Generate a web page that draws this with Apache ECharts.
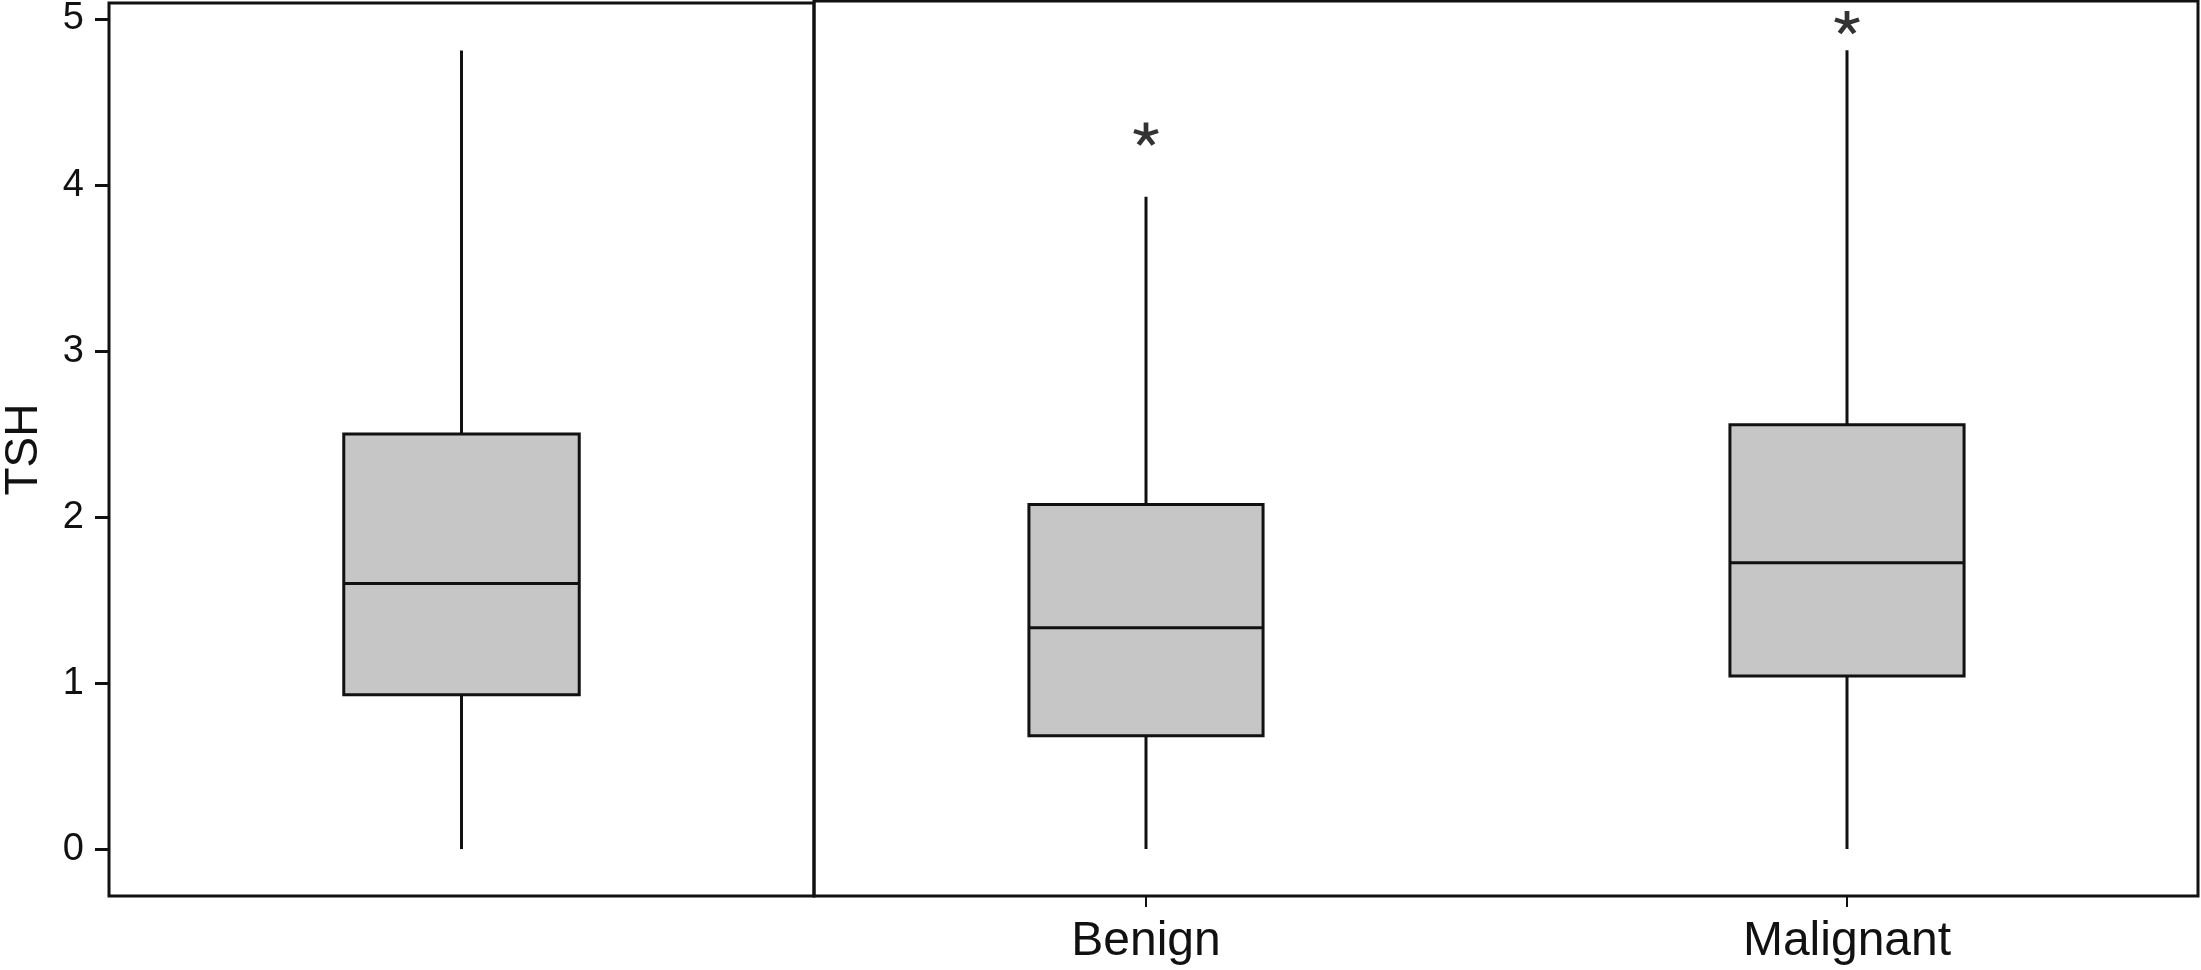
<!DOCTYPE html>
<html>
<head>
<meta charset="utf-8">
<script src="https://cdn.jsdelivr.net/npm/echarts@6/dist/echarts.min.js"></script>
<style>
    html, body { margin: 0; padding: 0; background: #fff; }
    #chart { width: 2201px; height: 970px; }
</style>
</head>
<body>
<div id="chart"></div>
<script>
    // left panel: all cases, right panel: by diagnosis
    const allLabel = ['All'];
    const groupLabels = ['Benign', 'Malignant'];

    const allLow = [0];
    const allQ1 = [0.93];
    const allMedian = [1.60];
    const allQ3 = [2.50];
    const allHigh = [4.81];

    const groupLow = [0, 0];
    const groupQ1 = [0.68, 1.04];
    const groupMedian = [1.33, 1.72];
    const groupQ3 = [2.07, 2.55];
    const groupHigh = [3.92, 4.80];

    const outlierGroup = ['Benign', 'Malignant'];
    const outlierValue = [4.30, 4.97];

    const yTicks = [0, 1, 2, 3, 4, 5];

    const LINE = '#111';
    const FILL = '#c6c6c6';
    const FONT = '"Liberation Sans", Arial, Helvetica, sans-serif';
    const BOX_WIDTH = 0.334;

    const Y_MIN = -0.2825;
    const Y_MAX = 5.0966;

    function boxRows(labels, low, q1, med, q3, high, pos) {
        return labels.map((name, i) => [pos(name, i), low[i], q1[i], med[i], q3[i], high[i]]);
    }

    const allRows = boxRows(allLabel, allLow, allQ1, allMedian, allQ3, allHigh, () => 1);
    const groupRows = boxRows(groupLabels, groupLow, groupQ1, groupMedian, groupQ3, groupHigh, (n, i) => i + 1);
    const outlierRows = outlierGroup.map((name, i) => [groupLabels.indexOf(name) + 1, outlierValue[i]]);

    function renderBox(params, api) {
        const x = api.value(0);
        const lo = api.coord([x, api.value(1)]);
        const b1 = api.coord([x, api.value(2)]);
        const md = api.coord([x, api.value(3)]);
        const b3 = api.coord([x, api.value(4)]);
        const hi = api.coord([x, api.value(5)]);
        const half = api.size([BOX_WIDTH, 0])[0] / 2;
        const cx = lo[0];
        const line = {stroke: LINE, lineWidth: 3};
        return {
            type: 'group',
            children: [
                {type: 'line', shape: {x1: cx, y1: hi[1], x2: cx, y2: b3[1]}, style: line},
                {type: 'line', shape: {x1: cx, y1: b1[1], x2: cx, y2: lo[1]}, style: line},
                {
                    type: 'rect',
                    shape: {x: cx - half, y: b3[1], width: half * 2, height: b1[1] - b3[1]},
                    style: {fill: FILL, stroke: LINE, lineWidth: 3}
                },
                {type: 'line', shape: {x1: cx - half, y1: md[1], x2: cx + half, y2: md[1]}, style: line}
            ]
        };
    }

    const asterisk = 'path://M0,0L0,-10M0,0L9.51,-3.09M0,0L5.88,8.09M0,0L-5.88,8.09M0,0L-9.51,-3.09';

    const chart = echarts.init(document.getElementById('chart'), null, {renderer: 'canvas'});

    const option = {
        backgroundColor: '#fff',
        animation: false,
        grid: [
            {left: 107, top: 1, width: 707, height: 895, show: true, borderColor: LINE, borderWidth: 3, backgroundColor: 'transparent'},
            {left: 814, top: 1, width: 1384, height: 895, show: true, borderColor: LINE, borderWidth: 3, backgroundColor: 'transparent'}
        ],
        xAxis: [
            {gridIndex: 0, type: 'value', min: 0.5, max: 1.5, show: false},
            {
                gridIndex: 1,
                type: 'value',
                position: 'bottom',
                min: 0.5264,
                max: 2.5007,
                axisLine: {show: false, onZero: false},
                splitLine: {show: false},
                axisTick: {
                    show: true,
                    length: 11,
                    customValues: groupLabels.map((n, i) => i + 1),
                    lineStyle: {color: LINE, width: 2}
                },
                axisLabel: {
                    customValues: groupLabels.map((n, i) => i + 1),
                    formatter: v => groupLabels[Math.round(v) - 1] || '',
                    color: '#111',
                    fontFamily: FONT,
                    fontSize: 48,
                    lineHeight: 48,
                    margin: 22
                }
            }
        ],
        yAxis: [
            {
                gridIndex: 0,
                type: 'value',
                min: Y_MIN,
                max: Y_MAX,
                name: 'TSH',
                nameLocation: 'middle',
                nameGap: 62,
                nameTextStyle: {color: '#111', fontFamily: FONT, fontSize: 46, lineHeight: 46},
                axisLine: {show: false, onZero: false},
                splitLine: {show: false},
                axisTick: {
                    show: true,
                    length: 14,
                    customValues: yTicks,
                    lineStyle: {color: LINE, width: 3}
                },
                axisLabel: {
                    customValues: yTicks,
                    color: '#111',
                    fontFamily: FONT,
                    fontSize: 38,
                    margin: 25
                }
            },
            {gridIndex: 1, type: 'value', min: Y_MIN, max: Y_MAX, show: false}
        ],
        series: [
            {
                type: 'custom',
                xAxisIndex: 0,
                yAxisIndex: 0,
                renderItem: renderBox,
                encode: {x: 0, y: [1, 2, 3, 4, 5]},
                data: allRows
            },
            {
                type: 'custom',
                xAxisIndex: 1,
                yAxisIndex: 1,
                renderItem: renderBox,
                encode: {x: 0, y: [1, 2, 3, 4, 5]},
                data: groupRows
            },
            {
                type: 'scatter',
                xAxisIndex: 1,
                yAxisIndex: 1,
                symbol: asterisk,
                symbolSize: [24, 22],
                itemStyle: {color: 'none', borderColor: '#000', borderWidth: 4.5},
                data: outlierRows
            }
        ]
    };

    chart.setOption(option);
</script>
</body>
</html>
